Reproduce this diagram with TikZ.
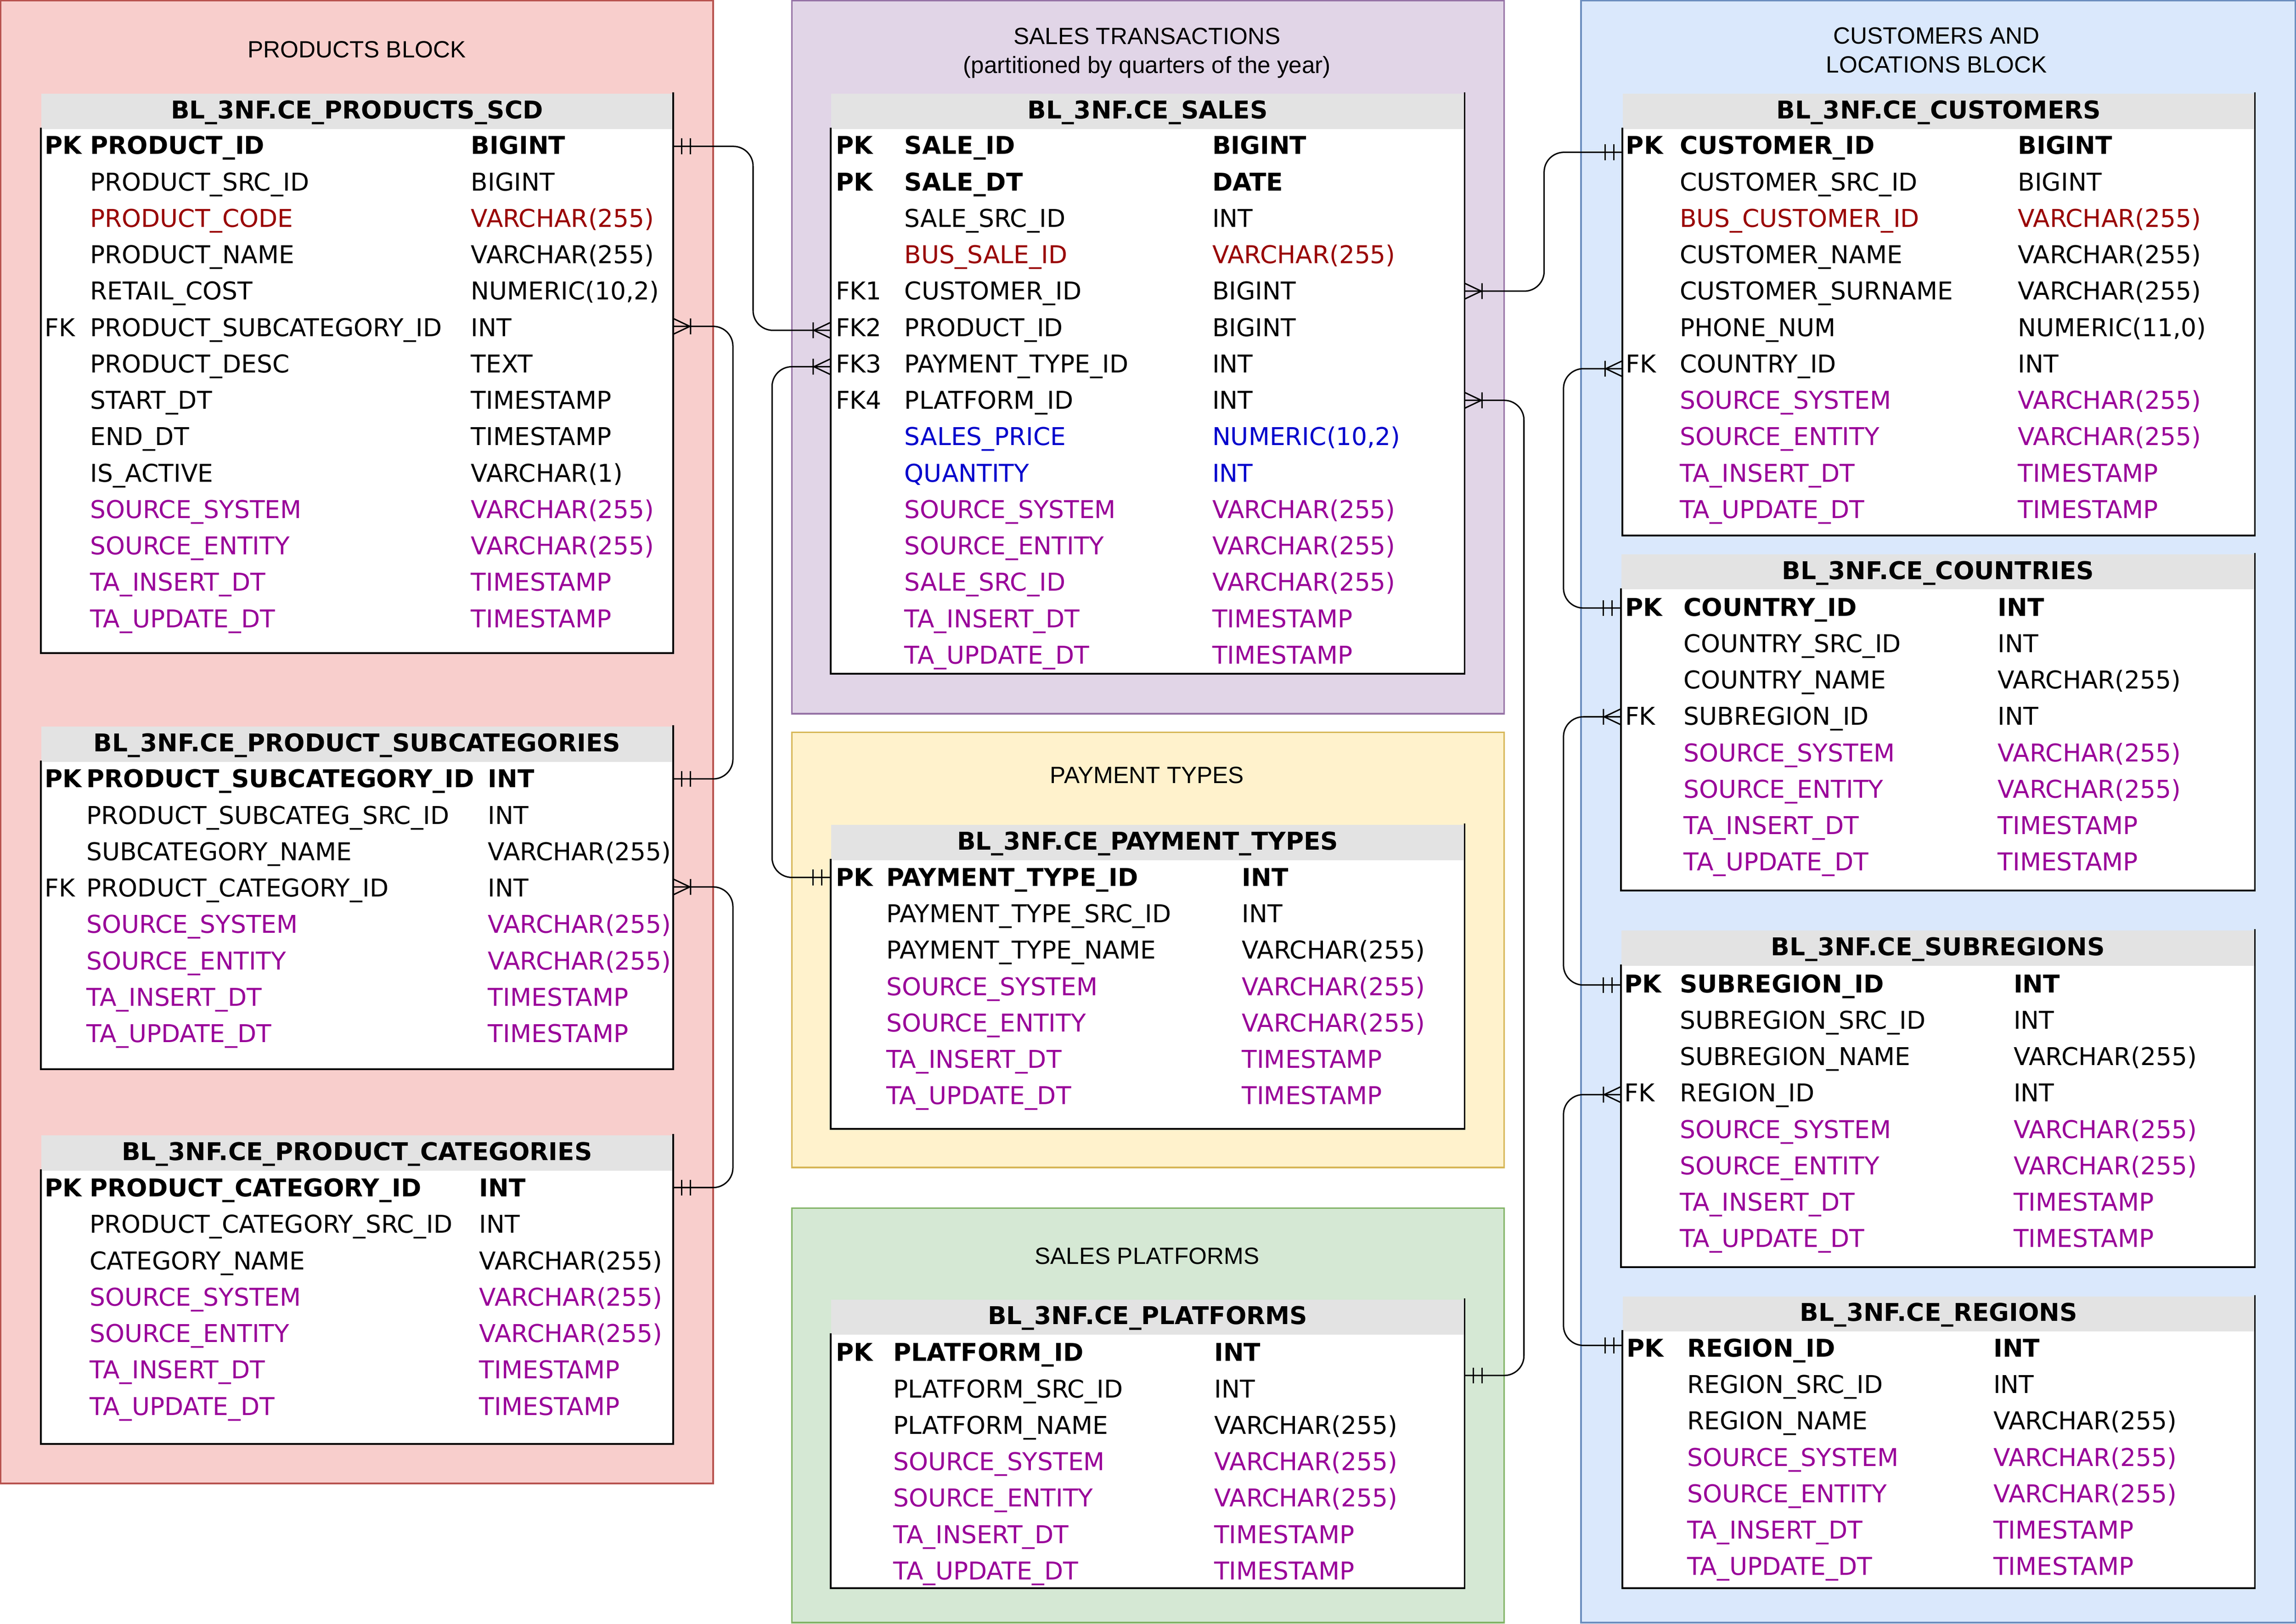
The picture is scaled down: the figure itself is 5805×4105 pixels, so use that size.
\documentclass[tikz,border=0pt]{standalone}
\usepackage{fontspec}
\setmainfont{DejaVu Sans}
\newfontfamily\titlefont{Liberation Sans}
\usetikzlibrary{calc}
\definecolor{redfill}{HTML}{F8CECC}\definecolor{redline}{HTML}{B85450}
\definecolor{purfill}{HTML}{E1D5E7}\definecolor{purline}{HTML}{9673A6}
\definecolor{yelfill}{HTML}{FFF2CC}\definecolor{yelline}{HTML}{D6B656}
\definecolor{grnfill}{HTML}{D5E8D4}\definecolor{grnline}{HTML}{82B366}
\definecolor{blufill}{HTML}{DAE8FC}\definecolor{bluline}{HTML}{6C8EBF}
\definecolor{hdrfill}{HTML}{E3E3E3}
\definecolor{tred}{HTML}{990000}\definecolor{tblue}{HTML}{0000CC}\definecolor{tpur}{HTML}{990099}
\tikzset{
  blk/.style={line width=0.8pt},
  cell/.style={anchor=base west, inner sep=0pt, font=\fontsize{12.4}{15}\selectfont},
  pk/.style={font=\fontsize{12.4}{15}\selectfont\bfseries},
  rd/.style={text=tred}, bl/.style={text=tblue}, pu/.style={text=tpur}, nm/.style={},
  tline/.style={line width=0.9pt, line cap=rect},
  ttitle/.style={anchor=base, inner sep=0pt, font=\fontsize{12.4}{15}\selectfont\bfseries},
  hdr/.style={fill=hdrfill, inner sep=0pt, anchor=north west},
  btitle/.style={inner sep=0pt, align=center, font=\titlefont\fontsize{11.9}{14.8}\selectfont},
  conn/.style={line width=0.7pt, rounded corners=10pt},
  mk/.style={line width=0.7pt},
  pics/erone/.style={code={\draw[mk] (#1*22,-20) -- (#1*22,20) (#1*44,-20) -- (#1*44,20);}},
  pics/ermany/.style={code={\draw[mk] (0,-20) -- (#1*42,0) -- (0,20) (#1*44,-20) -- (#1*44,20);}},
}
% #1 name, #2 xl, #3 xr, #4 ytop, #5 ybot, #6 title
\newcommand\ERtable[6]{%
  \fill[white] (#2,{#4+89}) rectangle (#3,#5);
  \node[hdr, minimum width={(#3-#2)*0.2pt}, minimum height={89*0.2pt}] (#1) at (#2,#4) {};
  \node[ttitle] (#1-title) at ({(#2+#3)/2},{#4+64}) {#6};
  \draw[tline] (#3,#4) -- (#3,#5) -- (#2,#5) -- (#2,{#4+89});
}
% #1 prefix, #2 index, #3 key, #4 field, #5 type, #6 style
\newcommand\ERrow[6]{%
  \node[cell,#6] (#1#2-k) at (\xa,{\yb+#2*92}) {#3};
  \node[cell,#6] (#1#2-f) at (\xf,{\yb+#2*92}) {#4};
  \node[cell,#6] (#1#2-t) at (\xt,{\yb+#2*92}) {#5};
}
\begin{document}
\begin{tikzpicture}[x=0.2pt,y=-0.2pt]
\useasboundingbox (0,0) rectangle (5805,4105);
% blocks
\draw[blk, fill=redfill, draw=redline] (2,2) rectangle (1803,3750);
\draw[blk, fill=purfill, draw=purline] (2002,2) rectangle (3803,1804);
\draw[blk, fill=yelfill, draw=yelline] (2002,1851) rectangle (3803,2951);
\draw[blk, fill=grnfill, draw=grnline] (2002,3054) rectangle (3803,4102);
\draw[blk, fill=blufill, draw=bluline] (3997,2) rectangle (5803,4102);
\node[btitle] (tProd) at (902,125) {PRODUCTS BLOCK};
\node[btitle] (tSales) at (2900,134) {SALES TRANSACTIONS\\(partitioned by quarters of the year)};
\node[btitle] (tPay) at (2900,1960) {PAYMENT TYPES};
\node[btitle] (tPlat) at (2900,3175) {SALES PLATFORMS};
\node[btitle] (tCust) at (4896,127) {CUSTOMERS AND\\LOCATIONS BLOCK};

% PRODUCTS_SCD
\ERtable{prod}{103}{1702}{236}{1651}{BL\_3NF.CE\_PRODUCTS\_SCD}
\def\xa{112}\def\xf{227}\def\xt{1190}\def\yb{390}
\ERrow{pr}{0}{PK}{PRODUCT\_ID}{BIGINT}{pk}
\ERrow{pr}{1}{}{PRODUCT\_SRC\_ID}{BIGINT}{nm}
\ERrow{pr}{2}{}{PRODUCT\_CODE}{VARCHAR(255)}{rd}
\ERrow{pr}{3}{}{PRODUCT\_NAME}{VARCHAR(255)}{nm}
\ERrow{pr}{4}{}{RETAIL\_COST}{NUMERIC(10,2)}{nm}
\ERrow{pr}{5}{FK}{PRODUCT\_SUBCATEGORY\_ID}{INT}{nm}
\ERrow{pr}{6}{}{PRODUCT\_DESC}{TEXT}{nm}
\ERrow{pr}{7}{}{START\_DT}{TIMESTAMP}{nm}
\ERrow{pr}{8}{}{END\_DT}{TIMESTAMP}{nm}
\ERrow{pr}{9}{}{IS\_ACTIVE}{VARCHAR(1)}{nm}
\ERrow{pr}{10}{}{SOURCE\_SYSTEM}{VARCHAR(255)}{pu}
\ERrow{pr}{11}{}{SOURCE\_ENTITY}{VARCHAR(255)}{pu}
\ERrow{pr}{12}{}{TA\_INSERT\_DT}{TIMESTAMP}{pu}
\ERrow{pr}{13}{}{TA\_UPDATE\_DT}{TIMESTAMP}{pu}

% SUBCATEGORIES
\ERtable{subc}{103}{1702}{1836}{2703}{BL\_3NF.CE\_PRODUCT\_SUBCATEGORIES}
\def\xa{112}\def\xf{218}\def\xt{1233}\def\yb{1991}
\ERrow{sc}{0}{PK}{PRODUCT\_SUBCATEGORY\_ID}{INT}{pk}
\ERrow{sc}{1}{}{PRODUCT\_SUBCATEG\_SRC\_ID}{INT}{nm}
\ERrow{sc}{2}{}{SUBCATEGORY\_NAME}{VARCHAR(255)}{nm}
\ERrow{sc}{3}{FK}{PRODUCT\_CATEGORY\_ID}{INT}{nm}
\ERrow{sc}{4}{}{SOURCE\_SYSTEM}{VARCHAR(255)}{pu}
\ERrow{sc}{5}{}{SOURCE\_ENTITY}{VARCHAR(255)}{pu}
\ERrow{sc}{6}{}{TA\_INSERT\_DT}{TIMESTAMP}{pu}
\ERrow{sc}{7}{}{TA\_UPDATE\_DT}{TIMESTAMP}{pu}

% CATEGORIES
\ERtable{cat}{103}{1702}{2869}{3650}{BL\_3NF.CE\_PRODUCT\_CATEGORIES}
\def\xa{112}\def\xf{226}\def\xt{1211}\def\yb{3025}
\ERrow{ca}{0}{PK}{PRODUCT\_CATEGORY\_ID}{INT}{pk}
\ERrow{ca}{1}{}{PRODUCT\_CATEGORY\_SRC\_ID}{INT}{nm}
\ERrow{ca}{2}{}{CATEGORY\_NAME}{VARCHAR(255)}{nm}
\ERrow{ca}{3}{}{SOURCE\_SYSTEM}{VARCHAR(255)}{pu}
\ERrow{ca}{4}{}{SOURCE\_ENTITY}{VARCHAR(255)}{pu}
\ERrow{ca}{5}{}{TA\_INSERT\_DT}{TIMESTAMP}{pu}
\ERrow{ca}{6}{}{TA\_UPDATE\_DT}{TIMESTAMP}{pu}

% SALES
\ERtable{sales}{2100}{3703}{236}{1703}{BL\_3NF.CE\_SALES}
\def\xa{2112}\def\xf{2286}\def\xt{3064}\def\yb{390}
\ERrow{sa}{0}{PK}{SALE\_ID}{BIGINT}{pk}
\ERrow{sa}{1}{PK}{SALE\_DT}{DATE}{pk}
\ERrow{sa}{2}{}{SALE\_SRC\_ID}{INT}{nm}
\ERrow{sa}{3}{}{BUS\_SALE\_ID}{VARCHAR(255)}{rd}
\ERrow{sa}{4}{FK1}{CUSTOMER\_ID}{BIGINT}{nm}
\ERrow{sa}{5}{FK2}{PRODUCT\_ID}{BIGINT}{nm}
\ERrow{sa}{6}{FK3}{PAYMENT\_TYPE\_ID}{INT}{nm}
\ERrow{sa}{7}{FK4}{PLATFORM\_ID}{INT}{nm}
\ERrow{sa}{8}{}{SALES\_PRICE}{NUMERIC(10,2)}{bl}
\ERrow{sa}{9}{}{QUANTITY}{INT}{bl}
\ERrow{sa}{10}{}{SOURCE\_SYSTEM}{VARCHAR(255)}{pu}
\ERrow{sa}{11}{}{SOURCE\_ENTITY}{VARCHAR(255)}{pu}
\ERrow{sa}{12}{}{SALE\_SRC\_ID}{VARCHAR(255)}{pu}
\ERrow{sa}{13}{}{TA\_INSERT\_DT}{TIMESTAMP}{pu}
\ERrow{sa}{14}{}{TA\_UPDATE\_DT}{TIMESTAMP}{pu}

% PAYMENT TYPES
\ERtable{pay}{2100}{3703}{2084}{2854}{BL\_3NF.CE\_PAYMENT\_TYPES}
\def\xa{2112}\def\xf{2240}\def\xt{3139}\def\yb{2240}
\ERrow{pt}{0}{PK}{PAYMENT\_TYPE\_ID}{INT}{pk}
\ERrow{pt}{1}{}{PAYMENT\_TYPE\_SRC\_ID}{INT}{nm}
\ERrow{pt}{2}{}{PAYMENT\_TYPE\_NAME}{VARCHAR(255)}{nm}
\ERrow{pt}{3}{}{SOURCE\_SYSTEM}{VARCHAR(255)}{pu}
\ERrow{pt}{4}{}{SOURCE\_ENTITY}{VARCHAR(255)}{pu}
\ERrow{pt}{5}{}{TA\_INSERT\_DT}{TIMESTAMP}{pu}
\ERrow{pt}{6}{}{TA\_UPDATE\_DT}{TIMESTAMP}{pu}

% PLATFORMS
\ERtable{plat}{2100}{3703}{3284}{4015}{BL\_3NF.CE\_PLATFORMS}
\def\xa{2112}\def\xf{2258}\def\xt{3069}\def\yb{3441}
\ERrow{pl}{0}{PK}{PLATFORM\_ID}{INT}{pk}
\ERrow{pl}{1}{}{PLATFORM\_SRC\_ID}{INT}{nm}
\ERrow{pl}{2}{}{PLATFORM\_NAME}{VARCHAR(255)}{nm}
\ERrow{pl}{3}{}{SOURCE\_SYSTEM}{VARCHAR(255)}{pu}
\ERrow{pl}{4}{}{SOURCE\_ENTITY}{VARCHAR(255)}{pu}
\ERrow{pl}{5}{}{TA\_INSERT\_DT}{TIMESTAMP}{pu}
\ERrow{pl}{6}{}{TA\_UPDATE\_DT}{TIMESTAMP}{pu}

% CUSTOMERS
\ERtable{cust}{4102}{5701}{236}{1354}{BL\_3NF.CE\_CUSTOMERS}
\def\xa{4110}\def\xf{4246}\def\xt{5101}\def\yb{390}
\ERrow{cu}{0}{PK}{CUSTOMER\_ID}{BIGINT}{pk}
\ERrow{cu}{1}{}{CUSTOMER\_SRC\_ID}{BIGINT}{nm}
\ERrow{cu}{2}{}{BUS\_CUSTOMER\_ID}{VARCHAR(255)}{rd}
\ERrow{cu}{3}{}{CUSTOMER\_NAME}{VARCHAR(255)}{nm}
\ERrow{cu}{4}{}{CUSTOMER\_SURNAME}{VARCHAR(255)}{nm}
\ERrow{cu}{5}{}{PHONE\_NUM}{NUMERIC(11,0)}{nm}
\ERrow{cu}{6}{FK}{COUNTRY\_ID}{INT}{nm}
\ERrow{cu}{7}{}{SOURCE\_SYSTEM}{VARCHAR(255)}{pu}
\ERrow{cu}{8}{}{SOURCE\_ENTITY}{VARCHAR(255)}{pu}
\ERrow{cu}{9}{}{TA\_INSERT\_DT}{TIMESTAMP}{pu}
\ERrow{cu}{10}{}{TA\_UPDATE\_DT}{TIMESTAMP}{pu}

% COUNTRIES
\ERtable{ctry}{4098}{5701}{1400}{2251}{BL\_3NF.CE\_COUNTRIES}
\def\xa{4108}\def\xf{4256}\def\xt{5050}\def\yb{1557}
\ERrow{co}{0}{PK}{COUNTRY\_ID}{INT}{pk}
\ERrow{co}{1}{}{COUNTRY\_SRC\_ID}{INT}{nm}
\ERrow{co}{2}{}{COUNTRY\_NAME}{VARCHAR(255)}{nm}
\ERrow{co}{3}{FK}{SUBREGION\_ID}{INT}{nm}
\ERrow{co}{4}{}{SOURCE\_SYSTEM}{VARCHAR(255)}{pu}
\ERrow{co}{5}{}{SOURCE\_ENTITY}{VARCHAR(255)}{pu}
\ERrow{co}{6}{}{TA\_INSERT\_DT}{TIMESTAMP}{pu}
\ERrow{co}{7}{}{TA\_UPDATE\_DT}{TIMESTAMP}{pu}

% SUBREGIONS
\ERtable{subr}{4098}{5701}{2351}{3203}{BL\_3NF.CE\_SUBREGIONS}
\def\xa{4106}\def\xf{4246}\def\xt{5090}\def\yb{2509}
\ERrow{sr}{0}{PK}{SUBREGION\_ID}{INT}{pk}
\ERrow{sr}{1}{}{SUBREGION\_SRC\_ID}{INT}{nm}
\ERrow{sr}{2}{}{SUBREGION\_NAME}{VARCHAR(255)}{nm}
\ERrow{sr}{3}{FK}{REGION\_ID}{INT}{nm}
\ERrow{sr}{4}{}{SOURCE\_SYSTEM}{VARCHAR(255)}{pu}
\ERrow{sr}{5}{}{SOURCE\_ENTITY}{VARCHAR(255)}{pu}
\ERrow{sr}{6}{}{TA\_INSERT\_DT}{TIMESTAMP}{pu}
\ERrow{sr}{7}{}{TA\_UPDATE\_DT}{TIMESTAMP}{pu}

% REGIONS
\ERtable{reg}{4102}{5701}{3276}{4015}{BL\_3NF.CE\_REGIONS}
\def\xa{4112}\def\xf{4265}\def\xt{5039}\def\yb{3430}
\ERrow{re}{0}{PK}{REGION\_ID}{INT}{pk}
\ERrow{re}{1}{}{REGION\_SRC\_ID}{INT}{nm}
\ERrow{re}{2}{}{REGION\_NAME}{VARCHAR(255)}{nm}
\ERrow{re}{3}{}{SOURCE\_SYSTEM}{VARCHAR(255)}{pu}
\ERrow{re}{4}{}{SOURCE\_ENTITY}{VARCHAR(255)}{pu}
\ERrow{re}{5}{}{TA\_INSERT\_DT}{TIMESTAMP}{pu}
\ERrow{re}{6}{}{TA\_UPDATE\_DT}{TIMESTAMP}{pu}

% connector end points and bends
\coordinate (e1a) at (1702,370);  \coordinate (v1) at (1904,835);  \coordinate (e1b) at (2100,835);
\coordinate (e2a) at (1702,825);  \coordinate (v2) at (1853,1969); \coordinate (e2b) at (1702,1969);
\coordinate (e3a) at (1702,2242); \coordinate (v3) at (1853,3002); \coordinate (e3b) at (1702,3002);
\coordinate (e4a) at (2100,927);  \coordinate (v4) at (1952,2218); \coordinate (e4b) at (2100,2218);
\coordinate (e5a) at (3703,736);  \coordinate (v5) at (3904,385);  \coordinate (e5b) at (4102,385);
\coordinate (e6a) at (3703,1012); \coordinate (v6) at (3853,3477); \coordinate (e6b) at (3703,3477);
\coordinate (e7a) at (4102,932);  \coordinate (v7) at (3953,1537); \coordinate (e7b) at (4098,1537);
\coordinate (e8a) at (4098,1812); \coordinate (v8) at (3953,2490); \coordinate (e8b) at (4098,2490);
\coordinate (e9a) at (4098,2767); \coordinate (v9) at (3953,3401); \coordinate (e9b) at (4102,3401);

\foreach \i in {1,...,9} {\draw[conn] (e\i a) -| (v\i) -- (e\i b);}

% markers (1 = pointing to +x, -1 = pointing to -x)
\pic at (e1a) {erone=1};   \pic at (e1b) {ermany=-1};
\pic at (e2a) {ermany=1};  \pic at (e2b) {erone=1};
\pic at (e3a) {ermany=1};  \pic at (e3b) {erone=1};
\pic at (e4a) {ermany=-1}; \pic at (e4b) {erone=-1};
\pic at (e5a) {ermany=1};  \pic at (e5b) {erone=-1};
\pic at (e6a) {ermany=1};  \pic at (e6b) {erone=1};
\pic at (e7a) {ermany=-1}; \pic at (e7b) {erone=-1};
\pic at (e8a) {ermany=-1}; \pic at (e8b) {erone=-1};
\pic at (e9a) {ermany=-1}; \pic at (e9b) {erone=-1};
\end{tikzpicture}
\end{document}
